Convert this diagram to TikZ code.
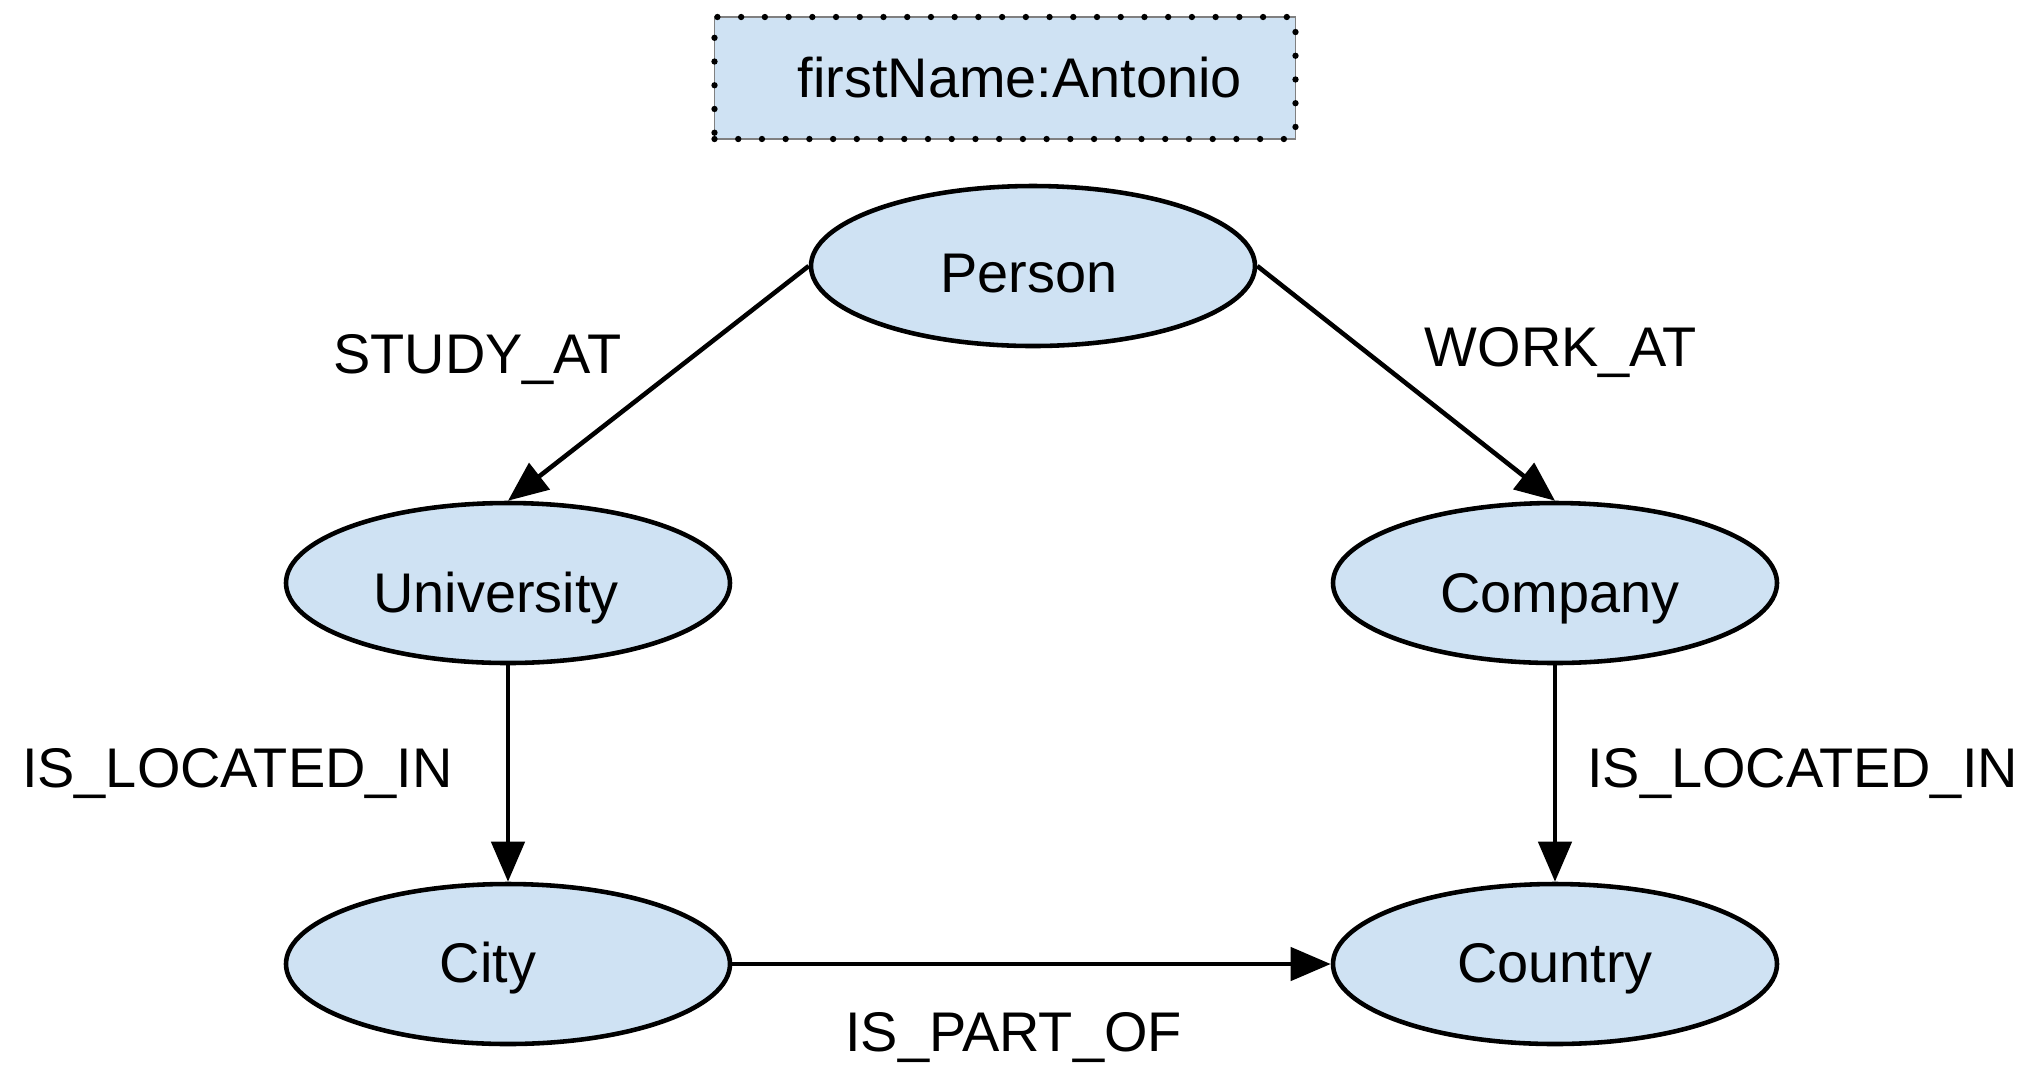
\documentclass[tikz,border=0pt]{standalone}
\usepackage{fontspec}
\setmainfont{Liberation Sans}
\usetikzlibrary{shapes.geometric,positioning,arrows.meta}

\definecolor{nodeblue}{RGB}{207,226,243}

\begin{document}
\begin{tikzpicture}[node distance=2cm,on grid,auto,
    font=\fontsize{15.9}{19}\selectfont,
    entity/.style={ellipse,draw,fill=nodeblue,line width=1.3pt,minimum width=4.44cm,minimum height=1.6cm},
    prop/.style={rectangle,draw=gray,fill=nodeblue,line width=0.3pt,minimum width=5.81cm,minimum height=1.22cm,
      postaction={draw=black,line width=1.8pt,line cap=round,dash pattern=on 0pt off 6.75pt}},
    rel/.style={inner sep=0pt}]
    \useasboundingbox (0,0) rectangle (20.37,-10.64);

    \node[entity,text height=15pt] (person) at (10.33,-2.66) {Person\hspace*{0.8mm}};
    \node[prop] (name) [above left=1.88cm and 0.28cm of person] {\hspace*{3mm}firstName:Antonio};
    \node[entity,text height=20pt] (university) [below left=3.17cm and 5.25cm of person] {University\hspace*{2.4mm}};
    \node[entity,text height=20pt] (company) [below right=3.17cm and 5.22cm of person] {\hspace*{1mm}Company};
    \node[entity,text height=14pt] (city) [below=3.81cm of university] {City\hspace*{4mm}};
    \node[entity,text height=14pt] (country) [right=10.47cm of city] {Country};

    \path[-{Triangle[length=4mm,width=3.3mm]},line width=1.3pt]
      (person.west) edge node[rel,pos=0.40,left=6.5mm] {STUDY\_AT} (university.north)
      (person.east) edge node[rel,pos=0.367,right=5.6mm] {WORK\_AT} (company.north)
      (university) edge node[rel,midway,left=5.3mm] {IS\_LOCATED\_IN} (city)
      (company) edge node[rel,midway,right=3mm] {IS\_LOCATED\_IN} (country)
      (city) edge node[rel,pos=0.47,below=4.6mm] {IS\_PART\_OF} (country);
  \end{tikzpicture}
\end{document}
